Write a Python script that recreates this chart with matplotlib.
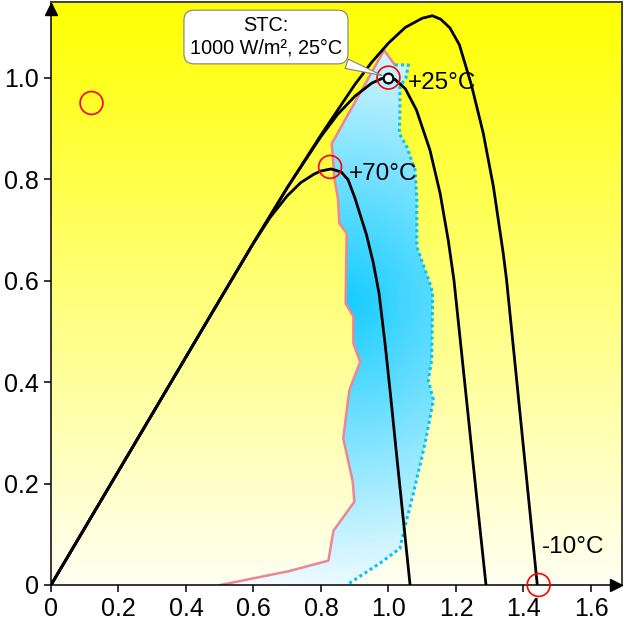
import numpy as np
import matplotlib
matplotlib.use("Agg")
from matplotlib import pyplot as plt
from matplotlib.patches import Polygon

plt.rcParams['font.family'] = ['Liberation Sans', 'DejaVu Sans']

# P-V curves (normalised voltage, normalised power)
v_70 = [0, 0.3, 0.5, 0.6, 0.65, 0.7, 0.74, 0.78, 0.8, 0.83, 0.86, 0.88, 0.90,
        0.935, 0.955, 0.972, 0.99, 1.006, 1.022, 1.043, 1.064]
p_70 = [0, 0.337, 0.562, 0.674, 0.725, 0.767, 0.793, 0.810, 0.816, 0.820,
        0.814, 0.799, 0.764, 0.690, 0.635, 0.575, 0.475, 0.375, 0.270, 0.135,
        0.0]

v_25 = [0, 0.3, 0.5, 0.6, 0.7, 0.8, 0.85, 0.9, 0.95, 0.98, 1.0, 1.02, 1.05,
        1.083, 1.123, 1.153, 1.177, 1.194, 1.21, 1.236, 1.261, 1.289]
p_25 = [0, 0.337, 0.562, 0.674, 0.783, 0.884, 0.928, 0.963, 0.989, 0.998,
        1.0, 0.996, 0.978, 0.936, 0.857, 0.772, 0.680, 0.601, 0.500, 0.335,
        0.175, 0.0]

v_m10 = [0, 0.3, 0.5, 0.6, 0.7, 0.8, 0.9, 0.95, 1.0, 1.05, 1.1, 1.13, 1.155,
         1.182, 1.21, 1.246, 1.281, 1.311, 1.340, 1.350, 1.38, 1.41, 1.441]
p_m10 = [0, 0.337, 0.562, 0.674, 0.783, 0.887, 0.986, 1.030, 1.068, 1.099,
         1.117, 1.122, 1.115, 1.098, 1.065, 0.985, 0.890, 0.785, 0.654, 0.601,
         0.403, 0.205, 0.0]

# shaded band: pink outline (bottom -> top) and dotted outline (top -> bottom)
band_left_v = [0.502, 0.703, 0.822, 0.837, 0.899, 0.894, 0.866, 0.884, 0.916,
               0.896, 0.896, 0.873, 0.876, 0.854, 0.851, 0.840, 0.832, 0.987,
               1.019]
band_left_p = [0.0, 0.027, 0.048, 0.107, 0.164, 0.204, 0.289, 0.384, 0.440,
               0.476, 0.529, 0.555, 0.693, 0.713, 0.759, 0.800, 0.870, 1.054,
               1.025]
band_right_v = [1.019, 1.059, 1.052, 1.034, 1.034, 1.032, 1.054, 1.079, 1.084,
                1.084, 1.123, 1.131, 1.128, 1.118, 1.133, 1.118, 1.104, 1.074,
                1.044, 1.034, 0.975, 0.876]
band_right_p = [1.025, 1.025, 1.0, 0.982, 0.936, 0.890, 0.864, 0.818, 0.759,
                0.667, 0.594, 0.575, 0.443, 0.404, 0.365, 0.312, 0.266, 0.181,
                0.102, 0.072, 0.043, 0.0]

circle_v = [0.12, 1.0, 0.827, 1.445]
circle_p = [0.95, 1.0, 0.824, 0.0]

stc_v = [1.0]
stc_p = [1.0]

temp_labels = ["+25°C", "+70°C", "-10°C"]
temp_label_v = [1.058, 0.884, 1.455]
temp_label_p = [0.99, 0.81, 0.075]

xticks = [0, 0.2, 0.4, 0.6, 0.8, 1.0, 1.2, 1.4, 1.6]
xticklabels = ["0", "0.2", "0.4", "0.6", "0.8", "1.0", "1.2", "1.4", "1.6"]
yticks = [0, 0.2, 0.4, 0.6, 0.8, 1.0]
yticklabels = ["0", "0.2", "0.4", "0.6", "0.8", "1.0"]

xmax, ymax = 1.692, 1.150

fig = plt.figure(figsize=(6.24, 6.23), dpi=100)
ax = fig.add_axes([51 / 624, 38 / 623, 571 / 624, 583.5 / 623])
ax.set_xlim(0, xmax)
ax.set_ylim(0, ymax)

# yellow background fading towards the bottom
g = np.linspace(0, 1, 256)[:, None]
bg = np.dstack([np.ones_like(g), np.ones_like(g), 0.95 * (1 - g)])
ax.imshow(bg, extent=[0, xmax, 0, ymax], origin='lower', aspect='auto',
          zorder=0)

# blue band with radial gradient
poly_v = band_left_v + band_right_v[1:]
poly_p = band_left_p + band_right_p[1:]
band = Polygon(np.column_stack([poly_v, poly_p]), closed=True,
               facecolor='none', edgecolor='none')
ax.add_patch(band)
gx, gy = np.meshgrid(np.linspace(0.4, 1.2, 300), np.linspace(0, 1.1, 400))
r = np.hypot((gx - 0.87) * 337.5, (gy - 0.56) * 507.5)
t = np.clip(r / 310, 0, 1)[..., None]
deep = np.array([0.08, 0.80, 1.0])
grad = deep * (1 - t) + np.ones(3) * t
im = ax.imshow(grad, extent=[0.4, 1.2, 0, 1.1], origin='lower',
               aspect='auto', zorder=1)
im.set_clip_path(band)

ax.plot(band_left_v, band_left_p, color='#ef8496', lw=1.8, zorder=2)
ax.plot(band_right_v, band_right_p, color='#00c4ff', lw=2.2,
        linestyle=(0, (1, 1)), zorder=2)

# P-V curves
for v, p in [(v_70, p_70), (v_25, p_25), (v_m10, p_m10)]:
    ax.plot(v, p, color='black', lw=2, zorder=3, solid_capstyle='butt')

ax.plot(stc_v, stc_p, 'o', ms=7, mfc='white', mec='black', mew=1.6,
        zorder=4)
ax.scatter(circle_v, circle_p, s=270, facecolors='none', edgecolors='red',
           linewidths=1.2, zorder=5, clip_on=False)

for lab, v, p in zip(temp_labels, temp_label_v, temp_label_p):
    ax.text(v, p, lab, fontsize=17.5, ha='left', va='center', zorder=6)

ax.annotate("STC:\n1000 W/m², 25°C", xy=(1.0, 1.0), xytext=(0.637, 1.080),
            fontsize=14.3, ha='center', va='center', linespacing=1.25,
            bbox=dict(boxstyle='round,pad=0.3,rounding_size=0.5', fc='white',
                      ec='#808080', lw=0.8),
            arrowprops=dict(arrowstyle='wedge,tail_width=0.5', fc='white',
                            ec='#808080', lw=0.8, shrinkB=5),
            zorder=6)

# axes styling
for side in ['left', 'bottom']:
    ax.spines[side].set_color('black')
    ax.spines[side].set_linewidth(1.1)
for side in ['top', 'right']:
    ax.spines[side].set_color('#404040')
    ax.spines[side].set_linewidth(1.4)

ax.set_xticks(xticks)
ax.set_xticklabels(xticklabels)
ax.set_yticks(yticks)
ax.set_yticklabels(yticklabels)
ax.tick_params(direction='out', length=5, width=1.1, labelsize=18, pad=4,
               top=False, right=False)

# arrow heads on the axes
ax.plot([0], [0.987], marker='^', ms=8.5, color='black',
        transform=ax.transAxes, clip_on=False, zorder=7)
ax.plot([0.990], [0], marker='>', ms=9, color='black',
        transform=ax.transAxes, clip_on=False, zorder=7)

plt.savefig('out.png', dpi=100)
plt.close()
